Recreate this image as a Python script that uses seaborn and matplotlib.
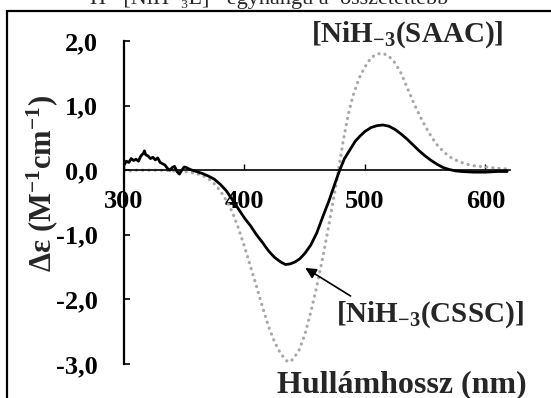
import matplotlib
matplotlib.use("Agg")
import matplotlib.pyplot as plt
import seaborn as sns
import pandas as pd
from matplotlib.lines import Line2D

# CD spectra of the two nickel complexes
wl_cssc = [300, 302, 304, 306, 308, 310, 312, 314, 316, 317, 318, 320, 322, 324,
           326, 328, 330, 332, 334, 336, 338, 340, 342, 344, 346, 348, 350, 352,
           355, 360, 365, 370, 375, 380, 385, 390, 395, 400, 405, 410, 415, 420,
           425, 430, 434, 438, 442, 446, 450, 455, 460, 465, 470, 475, 479, 483,
           488, 492, 496, 500, 505, 510, 515, 520, 525, 530, 535, 540, 545, 550,
           555, 560, 565, 570, 575, 580, 590, 600, 610, 618]
de_cssc = [0.08, 0.14, 0.12, 0.18, 0.15, 0.17, 0.14, 0.22, 0.26, 0.30, 0.24, 0.22,
           0.18, 0.20, 0.16, 0.19, 0.12, 0.10, 0.08, 0.03, 0.00, 0.04, 0.06, -0.02,
           -0.06, 0.00, 0.05, 0.04, 0.01, -0.02, -0.05, -0.09, -0.14, -0.22, -0.32,
           -0.46, -0.60, -0.74, -0.86, -1.00, -1.12, -1.25, -1.35, -1.42, -1.46,
           -1.45, -1.42, -1.37, -1.29, -1.16, -0.97, -0.72, -0.48, -0.21, 0.00,
           0.18, 0.33, 0.45, 0.53, 0.60, 0.66, 0.69, 0.70, 0.68, 0.63, 0.56, 0.48,
           0.39, 0.30, 0.22, 0.15, 0.09, 0.04, 0.01, -0.01, -0.02, -0.03, -0.03,
           -0.02, -0.02]

wl_saac = [300, 310, 320, 330, 340, 350, 360, 365, 370, 375, 380, 385, 390, 395,
           400, 405, 410, 415, 420, 425, 430, 435, 437, 440, 445, 450, 455, 460,
           465, 470, 475, 478, 482, 486, 490, 495, 500, 505, 510, 515, 520, 525,
           530, 535, 540, 545, 550, 555, 560, 565, 570, 575, 580, 585, 590, 600,
           610, 618]
de_saac = [-0.02, 0.00, 0.00, 0.00, -0.01, -0.02, -0.05, -0.08, -0.13, -0.21,
           -0.32, -0.47, -0.65, -0.90, -1.18, -1.49, -1.80, -2.12, -2.42, -2.66,
           -2.84, -2.95, -2.97, -2.93, -2.80, -2.55, -2.20, -1.80, -1.35, -0.85,
           -0.33, 0.00, 0.46, 0.85, 1.15, 1.42, 1.60, 1.74, 1.80, 1.81, 1.76,
           1.66, 1.50, 1.28, 1.06, 0.86, 0.68, 0.52, 0.39, 0.29, 0.21, 0.16, 0.12,
           0.09, 0.07, 0.05, 0.03, 0.02]

x_ticks = [300, 400, 500, 600]
x_ticklabels = ["300", "400", "500", "600"]
y_ticks = [2, 1, 0, -1, -2, -3]
y_ticklabels = ["2,0", "1,0", "0,0", "-1,0", "-2,0", "-3,0"]

sns.set_style("white")
plt.rcParams["font.family"] = ["Liberation Serif", "DejaVu Serif"]
plt.rcParams["font.weight"] = "bold"
plt.rcParams["mathtext.fontset"] = "custom"
plt.rcParams["mathtext.rm"] = "Liberation Serif:bold"
plt.rcParams["mathtext.bf"] = "Liberation Serif:bold"
plt.rcParams["mathtext.it"] = "Liberation Serif:bold"

fig = plt.figure(figsize=(5.51, 3.98), dpi=100)
ax = fig.add_axes([0.2250, 0.0854, 0.6998, 0.8116])

df_saac = pd.DataFrame({"wl": wl_saac, "de": de_saac})
df_cssc = pd.DataFrame({"wl": wl_cssc, "de": de_cssc})

sns.lineplot(data=df_saac, x="wl", y="de", ax=ax, color="#a8a8a8",
             linewidth=2.3, estimator=None, sort=False)
dotted = ax.lines[-1]
dotted.set_linestyle((0, (0.05, 1.9)))
dotted.set_dash_capstyle("round")

sns.lineplot(data=df_cssc, x="wl", y="de", ax=ax, color="black",
             linewidth=2.0, estimator=None, sort=False)

ax.set_xlim(300, 620)
ax.set_ylim(-3, 2)
for s in ("top", "right"):
    ax.spines[s].set_visible(False)
ax.spines["left"].set_position(("data", 300))
ax.spines["bottom"].set_position(("data", 0))
ax.spines["left"].set_linewidth(1.6)
ax.spines["bottom"].set_linewidth(1.2)
for s in ("left", "bottom"):
    ax.spines[s].set_color("black")

ax.set_xticks(x_ticks)
ax.set_xticklabels(x_ticklabels, fontsize=19, fontweight="bold")
ax.set_yticks(y_ticks)
ax.set_yticklabels(y_ticklabels, fontsize=19, fontweight="bold")
ax.tick_params(axis="x", bottom=True, direction="in", length=4.5, width=1.0, pad=14,
               colors="black")
ax.tick_params(axis="y", left=True, direction="in", length=4.5, width=1.2, pad=19,
               colors="black")
ax.set_xlabel("")
ax.set_ylabel("")
ax.grid(False)

ax.annotate("", xy=(448.5, -1.49), xytext=(490, -1.97),
            arrowprops=dict(arrowstyle="-|>", color="black", lw=1.2, mutation_scale=16))

fig.text(0.739, 0.912, r"$\mathbf{[NiH_{-3}(SAAC)]}$", ha="center", va="center", size=21)
fig.text(0.780, 0.2085, r"$\mathbf{[NiH_{-3}(CSSC)]}$", ha="center", va="center", size=21)
fig.text(0.7287, 0.0327, "Hullámhossz (nm)", ha="center", va="center", size=23,
         fontweight="bold")
fig.text(0.076, 0.540, r"$\mathbf{\Delta\varepsilon\ (M^{-1}cm^{-1})}$", rotation=90,
         ha="center", va="center", size=22)

# page text above the frame
fig.text(90 / 551, 1 - 4 / 398, "H⁺ [NiH₋₃L]⁻ egyhangú a  összetettebb",
         ha="left", va="baseline", size=16, fontweight="normal")

# surrounding frame
fig.add_artist(Line2D([7 / 551, 7 / 551], [0, 1 - 11 / 398], transform=fig.transFigure,
                      color="black", lw=1.6))
fig.add_artist(Line2D([7 / 551, 1], [1 - 11 / 398, 1 - 11 / 398], transform=fig.transFigure,
                      color="black", lw=1.6))

fig.savefig("out.png", dpi=100)
